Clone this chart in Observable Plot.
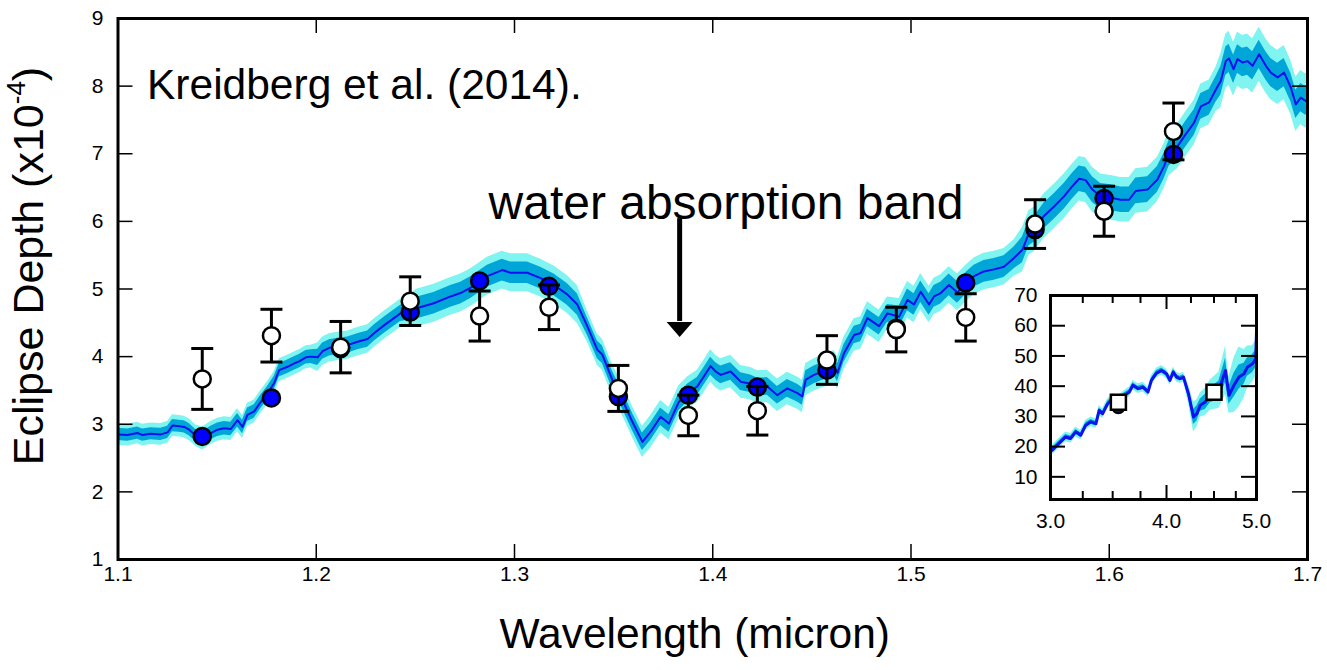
<!DOCTYPE html>
<html><head><meta charset="utf-8">
<script src="https://cdn.jsdelivr.net/npm/d3@7"></script>
<script src="https://cdn.jsdelivr.net/npm/@observablehq/plot@0.6"></script>
<style>
body{margin:0;background:#fff;}
#wrap{position:relative;width:1327px;height:670px;font-family:"Liberation Sans",Arial,Helvetica,sans-serif;overflow:hidden;}
#wrap svg{position:absolute;}
#ylab{position:absolute;left:29px;top:266px;transform:translate(-50%,-50%) rotate(-90deg);white-space:nowrap;font-size:43px;line-height:1.15;color:#000;}
#ylab sup{font-size:26px;vertical-align:0;position:relative;top:-18px;}
</style></head><body><div id="wrap"><div id="ylab">Eclipse Depth (x10<sup>-4</sup>)</div></div>
<script>
// ---------- main panel data ----------
const xTicks = [1.1, 1.2, 1.3, 1.4, 1.5, 1.6, 1.7];
const yTicks = [1, 2, 3, 4, 5, 6, 7, 8, 9];

// model spectrum (wavelength, micron) and eclipse depth (x1e-4)
const modelX = [
 1.1000,1.1048,1.1098,1.1124,1.1165,1.1216,1.1250,1.1275,1.1309,1.1334,
 1.1359,1.1393,1.1426,1.1468,1.1502,1.1536,1.1569,1.1603,1.1628,1.1653,
 1.1687,1.1720,1.1754,1.1788,1.1813,1.1855,1.1889,1.1914,1.1948,1.1973,
 1.2007,1.2032,1.2066,1.2107,1.2158,1.2208,1.2259,1.2293,1.2345,1.2425,
 1.2510,1.2593,1.2678,1.2728,1.2779,1.2863,1.2938,1.2980,1.3065,1.3132,
 1.3199,1.3266,1.3317,1.3367,1.3418,1.3443,1.3493,1.3552,1.3594,1.3645,
 1.3687,1.3737,1.3779,1.3829,1.3872,1.3922,1.3956,1.3989,1.4015,1.4040,
 1.4090,1.4141,1.4191,1.4227,1.4275,1.4326,1.4376,1.4427,1.4452,1.4469,
 1.4511,1.4570,1.4612,1.4629,1.4662,1.4713,1.4746,1.4780,1.4839,1.4881,
 1.4940,1.4982,1.5015,1.5049,1.5091,1.5116,1.5150,1.5192,1.5234,1.5280,
 1.5318,1.5368,1.5419,1.5469,1.5520,1.5562,1.5595,1.5621,1.5671,1.5722,
 1.5772,1.5814,1.5848,1.5881,1.5915,1.5957,1.6008,1.6058,1.6100,1.6134,
 1.6193,1.6243,1.6277,1.6302,1.6344,1.6386,1.6428,1.6462,1.6504,1.6538,
 1.6563,1.6588,1.6604,1.6627,1.6647,1.6672,1.6697,1.6723,1.6756,1.6790,
 1.6815,1.6849,1.6882,1.6916,1.6941,1.6966,1.6991,1.7000];
const modelY = [
 2.85,2.84,2.87,2.84,2.86,2.85,2.88,2.98,2.97,2.96,
 2.92,2.83,2.79,2.87,2.92,2.94,2.93,3.06,2.96,3.14,
 3.19,3.33,3.46,3.61,3.80,3.85,3.90,3.93,3.99,4.00,
 3.99,4.08,4.13,4.15,4.17,4.22,4.26,4.35,4.47,4.64,
 4.72,4.79,4.89,4.94,5.02,5.19,5.28,5.24,5.24,5.16,
 5.06,4.92,4.77,4.45,4.10,4.03,3.66,3.31,3.04,2.74,
 2.89,3.11,3.01,3.33,3.46,3.56,3.71,3.86,3.78,3.73,
 3.78,3.63,3.60,3.55,3.56,3.43,3.53,3.46,3.41,3.66,
 3.73,3.80,3.85,3.76,4.05,4.32,4.35,4.57,4.45,4.64,
 4.59,4.84,4.77,4.96,4.77,4.89,4.94,5.06,4.95,5.09,
 5.19,5.26,5.29,5.33,5.46,5.58,5.83,5.88,6.08,6.22,
 6.37,6.52,6.63,6.61,6.47,6.37,6.35,6.32,6.32,6.45,
 6.47,6.62,6.82,7.01,7.11,7.29,7.46,7.70,7.76,7.95,
 8.08,8.37,8.41,8.25,8.40,8.35,8.37,8.30,8.47,8.30,
 8.20,8.13,8.20,7.98,7.73,7.83,7.78,7.80];
// 1-sigma and 2-sigma half widths of the model envelope
const modelSig1 = [
 0.09,0.09,0.09,0.09,0.09,0.09,0.09,0.09,0.09,0.09,
 0.09,0.09,0.10,0.10,0.10,0.10,0.10,0.10,0.10,0.10,
 0.10,0.10,0.10,0.10,0.10,0.10,0.10,0.10,0.10,0.10,
 0.12,0.12,0.12,0.12,0.12,0.12,0.12,0.12,0.12,0.12,
 0.16,0.16,0.16,0.16,0.16,0.16,0.16,0.16,0.16,0.16,
 0.16,0.16,0.16,0.13,0.13,0.13,0.13,0.13,0.13,0.13,
 0.13,0.13,0.13,0.13,0.13,0.13,0.13,0.13,0.13,0.13,
 0.13,0.13,0.13,0.13,0.13,0.13,0.13,0.13,0.13,0.13,
 0.13,0.13,0.13,0.13,0.13,0.13,0.13,0.13,0.13,0.13,
 0.16,0.16,0.16,0.16,0.16,0.16,0.16,0.16,0.16,0.16,
 0.16,0.16,0.16,0.16,0.16,0.19,0.19,0.19,0.19,0.19,
 0.19,0.19,0.19,0.19,0.19,0.19,0.19,0.19,0.19,0.19,
 0.19,0.19,0.19,0.19,0.19,0.19,0.19,0.19,0.19,0.19,
 0.21,0.21,0.21,0.21,0.21,0.21,0.21,0.21,0.21,0.21,
 0.21,0.21,0.21,0.21,0.21,0.21,0.21,0.21];
const modelSig2 = [
 0.16,0.16,0.16,0.16,0.16,0.16,0.16,0.16,0.16,0.16,
 0.16,0.16,0.17,0.17,0.17,0.17,0.17,0.17,0.17,0.17,
 0.17,0.17,0.17,0.17,0.17,0.17,0.17,0.17,0.17,0.17,
 0.21,0.21,0.21,0.21,0.21,0.21,0.21,0.21,0.21,0.21,
 0.28,0.28,0.28,0.28,0.28,0.28,0.28,0.28,0.28,0.28,
 0.28,0.28,0.28,0.23,0.23,0.23,0.23,0.23,0.23,0.23,
 0.24,0.24,0.24,0.24,0.24,0.24,0.24,0.24,0.24,0.24,
 0.24,0.24,0.24,0.24,0.24,0.24,0.24,0.24,0.24,0.24,
 0.24,0.24,0.24,0.24,0.24,0.24,0.24,0.24,0.24,0.24,
 0.27,0.27,0.27,0.27,0.27,0.27,0.27,0.27,0.27,0.27,
 0.27,0.27,0.27,0.27,0.27,0.33,0.33,0.33,0.33,0.33,
 0.33,0.33,0.33,0.33,0.33,0.33,0.33,0.33,0.33,0.33,
 0.33,0.33,0.33,0.33,0.33,0.33,0.33,0.33,0.33,0.33,
 0.40,0.40,0.40,0.40,0.40,0.40,0.40,0.40,0.40,0.40,
 0.40,0.40,0.40,0.40,0.40,0.40,0.40,0.40];

// binned points
const binX     = [1.1425,1.1774,1.2123,1.2474,1.2824,1.3174,1.3524,1.3877,1.4225,1.4576,1.4926,1.5276,1.5626,1.5974,1.6324];
const obsY     = [3.67,4.31,4.14,4.82,4.60,4.73,3.53,3.13,3.20,3.95,4.40,4.58,5.96,6.15,7.33];
const obsErr   = [0.45,0.39,0.38,0.36,0.37,0.33,0.34,0.30,0.36,0.36,0.33,0.35,0.36,0.37,0.42];
const binModel = [2.82,3.39,4.12,4.66,5.12,5.04,3.41,3.43,3.55,3.80,4.42,5.09,5.88,6.34,6.99];

// annotations
const noteText = "Kreidberg et al. (2014).";
const bandText = "water absorption band";
const xLabel = "Wavelength (micron)";
const arrowX = 1.3833, arrowTop = 6.04, arrowShaftEnd = 4.52, arrowHeadY = 4.40;

// ---------- inset data ----------
const insetXTicks = [3, 4, 5];
const insetMinorTicks = [3.25, 3.5, 3.75, 4.25, 4.5, 4.75];
const insetYTicks = [10, 20, 30, 40, 50, 60, 70];
const insetX = [
 3.013,3.05,3.115,3.154,3.194,3.234,3.274,3.316,3.358,3.385,
 3.414,3.457,3.501,3.554,3.604,3.649,3.68,3.727,3.774,3.821,
 3.853,3.902,3.951,4.0,4.034,4.068,4.102,4.137,4.172,4.224,
 4.277,4.313,4.349,4.403,4.459,4.554,4.63,4.67,4.728,4.787,
 4.848,4.888,4.949,4.99,5.0];
const insetY = [
 18.8,20.5,23.2,22.7,24.9,23.8,27.1,28.2,27.6,32.0,
 30.9,34.2,35.9,35.5,37.0,38.1,40.3,39.2,39.7,38.1,
 41.9,44.3,45.2,44.1,41.9,44.7,43.0,42.5,43.0,37.5,
 29.8,30.9,33.7,34.8,37.0,38.6,45.2,37.0,40.3,43.0,
 44.1,46.3,47.4,49.0,58.0];
const insetSig1 = [
 0.8,0.8,0.8,0.8,0.8,0.8,0.8,0.8,0.8,0.8,
 0.8,0.8,0.8,0.8,0.8,0.8,0.8,0.8,0.8,0.8,
 0.8,0.8,0.8,0.8,0.8,0.8,0.8,0.8,0.8,1.5,
 2.5,2.5,2.0,2.5,2.5,3.0,4.0,3.0,4.0,4.0,
 3.5,3.0,3.0,3.0,4.0];
const insetSig2 = [
 1.6,1.6,1.6,1.6,1.6,1.6,1.6,1.6,1.6,1.6,
 1.6,1.6,1.6,1.6,1.6,1.6,1.6,1.6,1.6,1.6,
 1.6,1.6,1.6,1.6,1.6,1.6,1.6,1.6,1.6,3.0,
 5.0,4.5,4.0,4.5,5.0,6.0,8.0,6.0,9.0,10.0,
 8.0,7.0,6.0,6.0,6.0];
const insetObsX = [3.55, 4.5];
const insetObsY = [34.7, 38.0];
const insetModX = [3.55];
const insetModY = [33.0];

// ---------- build ----------
const FONT = '"Liberation Sans",Arial,Helvetica,sans-serif';
const LIGHT = "#80f4f0", DARK = "#00a6d8", LINE = "#1010f0";

const W = 1327, H = 670, mL = 117.5, mR = 20, mT = 18, mB = 111;
const fw = W - mL - mR, fh = H - mT - mB;

const model = modelX.map((x, i) => ({x, y: modelY[i], s1: modelSig1[i], s2: modelSig2[i]}));
const bins = binX.map((x, i) => ({x, obs: obsY[i], err: obsErr[i], mod: binModel[i]}));

const capSymbol = {draw(ctx) { ctx.moveTo(-11, 0); ctx.lineTo(11, 0); }};
const headSymbol = {draw(ctx) { ctx.moveTo(-13, -7.5); ctx.lineTo(13, -7.5); ctx.lineTo(0, 7.5); ctx.closePath(); }};

const main = Plot.plot({
  width: W, height: H,
  marginLeft: mL, marginRight: mR, marginTop: mT, marginBottom: mB,
  style: {fontFamily: FONT, fontSize: "21px", color: "black", background: "transparent"},
  x: {domain: [1.1, 1.7], axis: null},
  y: {domain: [1, 9], axis: null},
  marks: [
    Plot.areaY(model, {x: "x", y1: d => d.y - d.s2, y2: d => d.y + d.s2, fill: LIGHT}),
    Plot.areaY(model, {x: "x", y1: d => d.y - d.s1, y2: d => d.y + d.s1, fill: DARK}),
    Plot.line(model, {x: "x", y: "y", stroke: LINE, strokeWidth: 2}),
    Plot.dot(bins, {x: "x", y: "mod", r: 8.5, fill: "#0000ff", stroke: "black", strokeWidth: 2.5}),
    Plot.ruleX(bins, {x: "x", y1: d => d.obs - d.err, y2: d => d.obs + d.err, stroke: "black", strokeWidth: 3}),
    Plot.dot(bins, {x: "x", y: d => d.obs - d.err, symbol: capSymbol, fill: "none", stroke: "black", strokeWidth: 3}),
    Plot.dot(bins, {x: "x", y: d => d.obs + d.err, symbol: capSymbol, fill: "none", stroke: "black", strokeWidth: 3}),
    Plot.dot(bins, {x: "x", y: "obs", r: 8.5, fill: "white", stroke: "black", strokeWidth: 2.5}),
    // inward ticks on all sides
    Plot.tickX(xTicks, {x: d => d, insetTop: fh - 15, stroke: "black", strokeWidth: 1.5}),
    Plot.tickX(xTicks, {x: d => d, insetBottom: fh - 15, stroke: "black", strokeWidth: 1.5}),
    Plot.tickY(yTicks, {y: d => d, insetRight: fw - 15, stroke: "black", strokeWidth: 1.5}),
    Plot.tickY(yTicks, {y: d => d, insetLeft: fw - 15, stroke: "black", strokeWidth: 1.5}),
    Plot.frame({stroke: "black", strokeWidth: 3}),
    // tick labels
    Plot.text(xTicks, {x: d => d, text: d => d.toFixed(1), frameAnchor: "bottom", dy: 21, fontSize: 21, fill: "black"}),
    Plot.text(yTicks, {y: d => d, text: d => String(d), frameAnchor: "left", dx: -14.5, textAnchor: "end", fontSize: 21, fill: "black"}),
    // annotations
    Plot.text([noteText], {text: d => d, frameAnchor: "top-left", dx: 29, dy: 50, textAnchor: "start", fontSize: 42.5, fill: "black"}),
    Plot.text([bandText], {text: d => d, frameAnchor: "top-left", dx: 608, dy: 166, textAnchor: "middle", fontSize: 48, fill: "black"}),
    Plot.ruleX([arrowX], {x: d => d, y1: arrowTop, y2: arrowShaftEnd, stroke: "black", strokeWidth: 5}),
    Plot.dot([arrowX], {x: d => d, y: arrowHeadY, symbol: headSymbol, fill: "black", stroke: "none"}),
    Plot.text([xLabel], {text: d => d, frameAnchor: "bottom", dx: -18, dy: 88, fontSize: 42.5, fill: "black"})
  ]
});
main.style.left = "0px"; main.style.top = "0px";
document.getElementById("wrap").appendChild(main);

// ---------- inset ----------
const iL = 50, iT = 10, iFW = 206, iFH = 204, iR = 10, iB = 45;
const inset = insetX.map((x, i) => ({x, y: insetY[i], s1: insetSig1[i], s2: insetSig2[i]}));
const insetObs = insetObsX.map((x, i) => ({x, y: insetObsY[i]}));
const insetMod = insetModX.map((x, i) => ({x, y: insetModY[i]}));

const ins = Plot.plot({
  width: iL + iFW + iR, height: iT + iFH + iB,
  marginLeft: iL, marginRight: iR, marginTop: iT, marginBottom: iB,
  style: {fontFamily: FONT, fontSize: "21px", color: "black", background: "transparent", overflow: "visible"},
  x: {type: "log", domain: [3, 5], axis: null},
  y: {domain: [2.5, 70], axis: null},
  marks: [
    Plot.areaY(inset, {x: "x", y1: d => d.y - d.s2, y2: d => d.y + d.s2, fill: LIGHT}),
    Plot.areaY(inset, {x: "x", y1: d => d.y - d.s1, y2: d => d.y + d.s1, fill: DARK}),
    Plot.line(inset, {x: "x", y: "y", stroke: LINE, strokeWidth: 3}),
    Plot.dot(insetMod, {x: "x", y: "y", r: 6, fill: "#0000ff", stroke: "black", strokeWidth: 2}),
    Plot.dot(insetObs, {x: "x", y: "y", symbol: "square", r: 8.5, fill: "white", stroke: "black", strokeWidth: 2.5}),
    Plot.tickX(insetXTicks, {x: d => d, insetTop: iFH - 14, stroke: "black", strokeWidth: 2}),
    Plot.tickX(insetXTicks, {x: d => d, insetBottom: iFH - 14, stroke: "black", strokeWidth: 2}),
    Plot.tickX(insetMinorTicks, {x: d => d, insetTop: iFH - 8, stroke: "black", strokeWidth: 2}),
    Plot.tickX(insetMinorTicks, {x: d => d, insetBottom: iFH - 8, stroke: "black", strokeWidth: 2}),
    Plot.tickY(insetYTicks, {y: d => d, insetRight: iFW - 15, stroke: "black", strokeWidth: 2}),
    Plot.tickY(insetYTicks, {y: d => d, insetLeft: iFW - 15, stroke: "black", strokeWidth: 2}),
    Plot.frame({stroke: "black", strokeWidth: 3}),
    Plot.text(insetXTicks, {x: d => d, text: d => d.toFixed(1), frameAnchor: "bottom", dy: 28, fontSize: 21, fill: "black"}),
    Plot.text(insetYTicks, {y: d => d, text: d => String(d), frameAnchor: "left", dx: -13, textAnchor: "end", fontSize: 21, fill: "black"})
  ]
});
ins.style.left = (1050 - iL) + "px";
ins.style.top = (295 - iT) + "px";
document.getElementById("wrap").appendChild(ins);
</script>
</body></html>
